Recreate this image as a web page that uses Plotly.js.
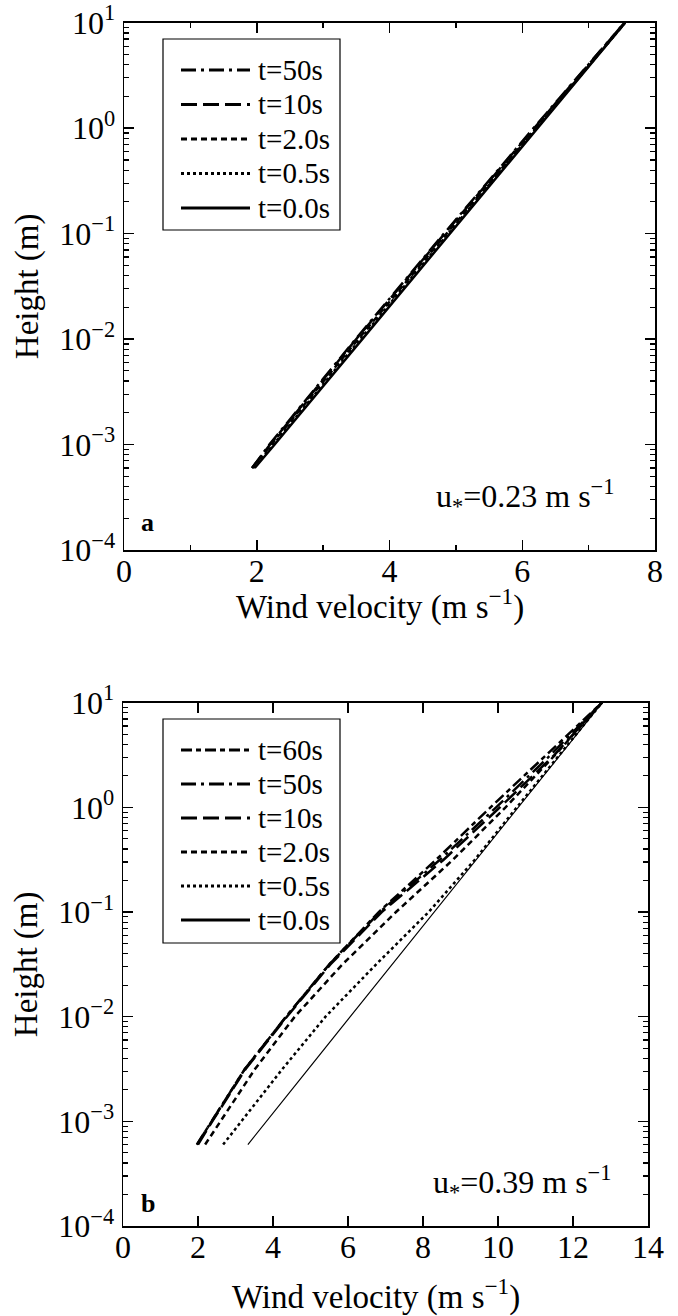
<!DOCTYPE html>
<html>
<head>
<meta charset="utf-8">
<script src="https://cdn.plot.ly/plotly-3.0.1.min.js"></script>
<style>html,body{margin:0;padding:0;background:#fff;}#chart{width:678px;height:1316px;}</style>
</head>
<body>
<div id="chart"></div>
<script>
// ---------- DATA ----------
// Panel a (u* = 0.23 m/s): heights (m) and wind velocity (m/s)
const heightsA = [6e-4, 1e-3, 1e-2, 1e-1, 1, 10];
const aLabels = ["t=50s", "t=10s", "t=2.0s", "t=0.5s", "t=0.0s"];
const aT50  = [1.93, 2.19, 3.49, 4.82, 6.17, 7.54];
const aT10  = [1.93, 2.20, 3.50, 4.83, 6.18, 7.54];
const aT2   = [1.93, 2.22, 3.53, 4.86, 6.20, 7.55];
const aT05  = [1.95, 2.25, 3.56, 4.88, 6.21, 7.55];
const aT0   = [1.97, 2.27, 3.59, 4.91, 6.23, 7.55];

// Panel b (u* = 0.39 m/s)
const heightsB = [6e-4, 1e-3, 3.16e-3, 1e-2, 3.16e-2, 1e-1, 3.16e-1, 1, 3.16, 10];
const bLabels = ["t=60s", "t=50s", "t=10s", "t=2.0s", "t=0.5s", "t=0.0s"];
const bT60 = [1.97, 2.36, 3.25, 4.35, 5.50, 6.82, 8.35, 9.80, 11.28, 12.77];
const bT50 = [1.97, 2.36, 3.25, 4.35, 5.50, 6.85, 8.45, 9.95, 11.40, 12.77];
const bT10 = [2.00, 2.38, 3.27, 4.37, 5.53, 6.90, 8.55, 10.05, 11.50, 12.77];
const bT2  = [2.19, 2.60, 3.52, 4.58, 5.85, 7.28, 8.80, 10.20, 11.52, 12.77];
const bT05 = [2.67, 3.15, 4.25, 5.40, 6.75, 8.15, 9.38, 10.50, 11.63, 12.77];
const bT0  = [3.33, 3.82, 4.94, 6.06, 7.18, 8.29, 9.41, 10.53, 11.65, 12.78];

const yTickVals = [1e-4, 1e-3, 1e-2, 1e-1, 1, 10];
const yTickText = ["10<sup>\u22124</sup>", "10<sup>\u22123</sup>", "10<sup>\u22122</sup>", "10<sup>\u22121</sup>", "10<sup>0</sup>", "10<sup>1</sup>"];
const xTicksA = [0, 2, 4, 6, 8];
const xTicksB = [0, 2, 4, 6, 8, 10, 12, 14];
const xTitle = "Wind velocity (m s<sup>\u22121</sup>)";
const yTitle = "Height (m)";

// ---------- STYLE ----------
const W = 678, H = 1316;
const px = x => x / W, py = y => 1 - y / H;
const FONT = "'Liberation Serif', 'Times New Roman', Times, serif";
const DASH = {
  "t=60s": "11px,4px,5px,4px",
  "t=50s": "15px,5px,3px,5px",
  "t=10s": "16px,6px",
  "t=2.0s": "6px,4px",
  "t=0.5s": "3px,3px",
  "t=0.0s": "solid"
};

const minorY = [];
for (let e = -4; e < 1; e++) for (let k = 2; k <= 9; k++) minorY.push(k * Math.pow(10, e));

function tr(x, y, name, xa, ya, w) {
  return {x: x, y: y, name: name, xaxis: xa, yaxis: ya, type: "scatter", mode: "lines",
          line: {color: "#000", width: w, dash: DASH[name]}, hoverinfo: "skip"};
}

const traces = [
  tr(aT0, heightsA, "t=0.0s", "x", "y", 2.5),
  tr(aT05, heightsA, "t=0.5s", "x", "y", 2.5),
  tr(aT2, heightsA, "t=2.0s", "x", "y", 2.5),
  tr(aT10, heightsA, "t=10s", "x", "y", 2.5),
  tr(aT50, heightsA, "t=50s", "x", "y", 2.5),
  tr(bT0, heightsB, "t=0.0s", "x2", "y2", 1.2),
  tr(bT05, heightsB, "t=0.5s", "x2", "y2", 2.5),
  tr(bT2, heightsB, "t=2.0s", "x2", "y2", 2.5),
  tr(bT10, heightsB, "t=10s", "x2", "y2", 2.5),
  tr(bT50, heightsB, "t=50s", "x2", "y2", 2.5),
  tr(bT60, heightsB, "t=60s", "x2", "y2", 2.5)
];

const tickFont = {family: FONT, size: 32, color: "#000"};
const titleFont = {family: FONT, size: 33, color: "#000"};

function xAxis(dom, rng, ticks, minorVals, anchor) {
  return {domain: dom, range: rng, anchor: anchor, tickmode: "array", tickvals: ticks,
    ticktext: ticks.map(String), ticks: "inside", ticklen: 10, tickwidth: 1.5, tickcolor: "#000",
    showline: true, linecolor: "#000", linewidth: 1.5, mirror: "ticks", showgrid: false, zeroline: false,
    tickfont: tickFont, ticklabelstandoff: -8,
    minor: minorVals ? {tickmode: "array", tickvals: minorVals, ticks: "inside", ticklen: 5, tickwidth: 1.5, tickcolor: "#000"} : undefined};
}
function yAxis(dom, anchor) {
  return {domain: dom, type: "log", range: [-4, 1], anchor: anchor, tickmode: "array",
    tickvals: yTickVals, ticktext: yTickText, ticks: "inside", ticklen: 10, tickwidth: 1.5, tickcolor: "#000",
    showline: true, linecolor: "#000", linewidth: 1.5, mirror: "ticks", showgrid: false, zeroline: false,
    tickfont: tickFont, ticklabelstandoff: 1,
    minor: {tickmode: "array", tickvals: minorY, ticks: "inside", ticklen: 5, tickwidth: 1.2, tickcolor: "#000"},
    title: {text: yTitle, font: titleFont, standoff: 10}};
}

// custom legends
const shapes = [], annotations = [];
function legend(labels, boxTop, boxBottom, rowY0, rowStep) {
  shapes.push({type: "rect", xref: "paper", yref: "paper", x0: px(163), x1: px(340), y0: py(boxTop), y1: py(boxBottom),
    line: {color: "#000", width: 1.2}, fillcolor: "#fff", layer: "above"});
  labels.forEach((lab, i) => {
    const yy = rowY0 + i * rowStep;
    shapes.push({type: "line", xref: "paper", yref: "paper", x0: px(181), x1: px(250), y0: py(yy), y1: py(yy),
      line: {color: "#000", width: 3, dash: DASH[lab]}, layer: "above"});
    annotations.push({xref: "paper", yref: "paper", x: px(256), y: py(yy), xanchor: "left", yanchor: "middle",
      text: lab, showarrow: false, font: {family: FONT, size: 29, color: "#000"}});
  });
}
legend(aLabels, 39, 230, 70, 34.5);
legend(bLabels, 719, 943, 750, 34);

// x-axis titles
annotations.push({xref: "paper", yref: "paper", x: px(380), y: py(604), xanchor: "center", yanchor: "middle",
  text: xTitle, showarrow: false, font: titleFont});
annotations.push({xref: "paper", yref: "paper", x: px(376), y: py(1294), xanchor: "center", yanchor: "middle",
  text: xTitle, showarrow: false, font: titleFont});

annotations.push({xref: "paper", yref: "paper", x: px(616), y: py(497), xanchor: "right", yanchor: "middle",
  text: "u<sub>*</sub>=0.23 m s<sup>\u22121</sup>", showarrow: false, font: {family: FONT, size: 32, color: "#000"}});
annotations.push({xref: "paper", yref: "paper", x: px(613), y: py(1182), xanchor: "right", yanchor: "middle",
  text: "u<sub>*</sub>=0.39 m s<sup>\u22121</sup>", showarrow: false, font: {family: FONT, size: 32, color: "#000"}});
annotations.push({xref: "paper", yref: "paper", x: px(139), y: py(522), xanchor: "left", yanchor: "middle",
  text: "<b>a</b>", showarrow: false, font: {family: FONT, size: 26, color: "#000"}});
annotations.push({xref: "paper", yref: "paper", x: px(139), y: py(1203), xanchor: "left", yanchor: "middle",
  text: "<b>b</b>", showarrow: false, font: {family: FONT, size: 26, color: "#000"}});

const layout = {
  width: W, height: H, margin: {l: 0, r: 0, t: 0, b: 0}, paper_bgcolor: "#fff", plot_bgcolor: "#fff",
  showlegend: false, font: {family: FONT, color: "#000"},
  xaxis: xAxis([px(124), px(655)], [0, 8], xTicksA, [1, 3, 5, 7], "y"),
  yaxis: yAxis([py(550), py(22.7)], "x"),
  xaxis2: xAxis([px(123), px(648)], [0, 14], xTicksB, null, "y2"),
  yaxis2: yAxis([py(1226), py(702.7)], "x2"),
  shapes: shapes, annotations: annotations
};

Plotly.newPlot("chart", traces, layout, {staticPlot: true, displayModeBar: false});
</script>
</body>
</html>
